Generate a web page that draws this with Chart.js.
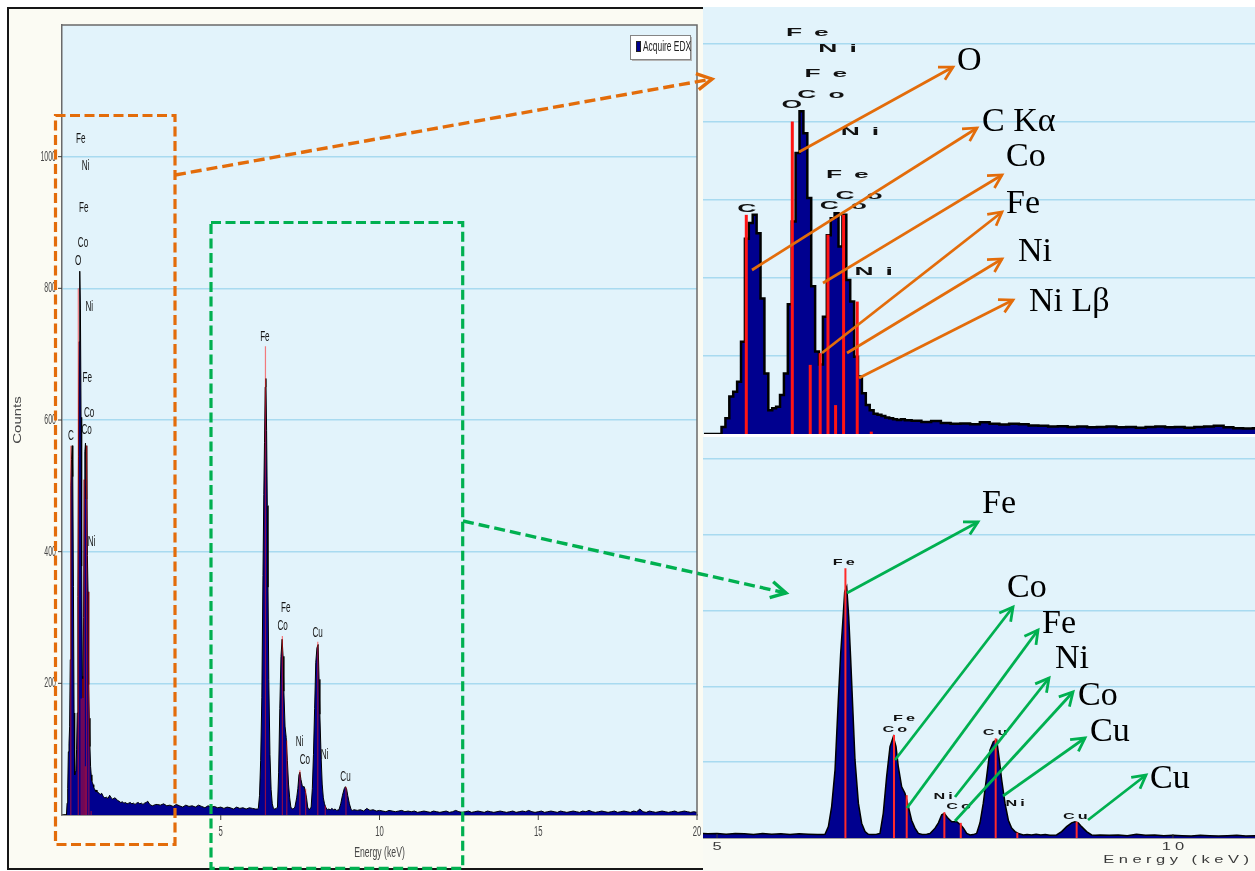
<!DOCTYPE html>
<html>
<head>
<meta charset="utf-8">
<script src="https://cdn.jsdelivr.net/npm/chart.js@4.4.1/dist/chart.umd.min.js"></script>
<style>
  body { margin: 0; background: #fff; width: 1255px; height: 871px; overflow: hidden; position: relative; }
  #panel { position: absolute; left: 7px; top: 7px; width: 697px; height: 863px; box-sizing: border-box;
           background: #fbfbf3; border: 2px solid #161616; border-right: none; }
  canvas { position: absolute; }
  #main { left: 0; top: 0; }
  #top { left: 703px; top: 7px; }
  #bottom { left: 703px; top: 437px; }
  #notes { position: absolute; left: 0; top: 0; }
</style>
</head>
<body>
<div id="panel"></div>
<canvas id="main" width="703" height="871" style="width:703px;height:871px"></canvas>
<canvas id="top" width="552" height="427" style="width:552px;height:427px"></canvas>
<canvas id="bottom" width="552" height="434" style="width:552px;height:434px"></canvas>
<svg id="notes" width="1255" height="871"></svg>
<script>
// spectrum, low energy part (C, O and the L lines)
const lowEnergy = [0.06,0.08,0.10,0.12,0.14,0.16,0.18,0.20,0.22,0.24,0.26,0.28,0.30,0.32,0.34,0.36,0.38,0.40,
  0.42,0.44,0.46,0.48,0.50,0.52,0.54,0.56,0.58,0.60,0.62,0.64,0.66,0.68,0.70,0.72,0.74,0.76,0.78,0.80,
  0.82,0.84,0.86,0.88,0.90,0.92,0.94,0.96,0.98,1.00,1.02,1.04,1.06,1.08,1.10];
const lowCounts = [0,0,0,0,0,18,40,96,108,134,236,500,540,561,514,347,155,61,
  66,70,100,155,332,544,719,826,770,604,378,211,178,300,509,552,565,480,561,394,
  339,198,147,104,74,61,52,49,46,42,40,38,36,38,35];

// background between the L lines and the K lines
const bgEnergy = [1.15,1.20,1.25,1.30,1.35,1.40,1.45,1.50,1.55,1.60,1.65,1.70,1.75,1.80,1.85,1.90,1.95,2.00,
  2.05,2.10,2.15,2.20,2.25,2.30,2.35,2.40,2.45,2.50,2.55,2.60,2.65,2.70,2.75,2.80,2.85,2.90,2.95,
  3.0,3.1,3.2,3.3,3.4,3.5,3.6,3.7,3.8,3.9,4.0,4.1,4.2,4.3,4.4,4.5,4.6,4.7,4.8,4.9,5.0,5.1,5.2,5.3,
  5.4,5.5,5.6,5.7,5.8,5.9,6.0,6.1];
const bgCounts = [34,31,33,28,26,27,25,30,26,24,26,25,22,21,19,20,18,19,
  17,18,19,17,18,16,18,19,17,18,16,18,19,21,17,15,14,15,16,
  16,15,17,14,15,13,16,14,12,15,13,14,12,15,13,11,14,12,13,11,12,10,12,11,
  9,12,10,11,9,11,10,9];

// K lines: Fe, Co/Fe, Ni/Co, Cu, Cu
const peakEnergy = [6.15,6.184,6.221,6.257,6.294,6.330,6.356,6.378,6.400,6.422,6.444,6.466,6.488,6.513,6.550,6.586,6.623,6.659,6.70,6.75,
  6.787,6.823,6.860,6.897,6.933,6.963,6.988,7.025,7.061,7.098,7.134,7.171,7.208,7.25,7.30,
  7.336,7.391,7.428,7.464,7.493,7.526,7.574,7.629,7.673,7.702,7.738,7.775,7.81,
  7.847,7.884,7.920,7.957,7.993,8.030,8.067,8.096,8.122,8.158,8.195,8.231,8.268,8.304,8.359,8.40,8.45,8.50,8.55,8.60,8.65,
  8.724,8.779,8.834,8.889,8.925,8.962,8.998,9.053,9.108,9.15,9.20];
const peakCounts = [9,10,30,83,179,364,487,566,650,663,584,470,346,206,92,39,17,10,9,10,
  12,65,162,241,267,241,188,135,118,83,47,26,12,9,10,
  12,26,40,61,65,54,43,43,34,26,12,8,9,
  12,40,92,162,232,254,259,206,153,92,47,26,17,12,8,9,8,10,8,9,7,
  8,17,30,40,43,40,30,17,8,7,8];

// high energy tail
const tailEnergy = [9.3,9.4,9.5,9.6,9.7,9.8,9.9,10.0,10.1,10.2,10.3,10.4,10.5,10.6,10.7,10.8,10.9,11.0,11.1,11.2,
  11.3,11.4,11.5,11.6,11.7,11.8,11.9,12.0,12.1,12.2,12.3,12.4,12.5,12.6,12.7,12.8,12.9,13.0,13.1,13.2,
  13.3,13.4,13.5,13.6,13.7,13.8,13.9,14.0,14.1,14.2,14.3,14.4,14.5,14.6,14.7,14.8,14.9,15.0,15.1,15.2,
  15.3,15.4,15.5,15.6,15.7,15.8,15.9,16.0,16.1,16.2,16.3,16.4,16.5,16.6,16.7,16.8,16.9,17.0,17.1,17.2,
  17.3,17.4,17.5,17.6,17.7,17.8,17.9,18.0,18.1,18.2,18.3,18.4,18.5,18.6,18.7,18.8,18.9,19.0,19.1,19.2,
  19.3,19.4,19.5,19.6,19.7,19.8,19.9,20.0];
const tailCounts = [7,8,6,10,7,8,6,7,6,5,7,6,5,6,7,5,6,5,6,4,
  5,6,5,4,6,5,4,5,6,4,5,7,5,4,5,6,4,5,6,5,
  4,6,5,4,5,6,5,4,5,6,4,5,6,5,7,5,4,5,6,4,
  5,6,5,4,6,5,4,5,6,5,4,6,5,7,5,4,5,6,5,4,
  5,6,4,5,6,5,4,6,5,9,5,4,6,5,4,5,6,5,4,5,
  6,4,5,6,5,4,5,4];

// line markers (energy keV, counts at the top of the red line)
const markerEnergy = [0.277,0.513,0.605,0.656,0.696,0.735,0.776,0.846,0.918,6.408,6.941,7.08,7.493,7.673,8.056,8.293,8.944];
const markerCounts = [561,800,177,207,510,74,561,339,6,712,272,113,68,40,263,14,43];

// element labels of the software
const labelText   = ['C','O','Co','Ni','Co','Fe','Ni','Co','Fe','Ni','Fe','Fe','Co','Fe','Cu','Ni','Co','Ni','Cu'];
const labelEnergy = [0.28,0.51,0.775,0.93,0.855,0.795,0.86,0.66,0.685,0.745,0.59,6.39,6.95,7.05,8.05,7.48,7.65,8.27,8.93];
const labelCounts = [576,842,584,414,610,664,772,868,922,985,1027,726,287,314,277,110,83,91,58];

// tick labels of the zoomed K-line view
const insetTicks = [5, 10];

const energy = [...lowEnergy, ...bgEnergy, ...peakEnergy, ...tailEnergy];
const counts = [...lowCounts, ...bgCounts, ...peakCounts, ...tailCounts];
const points = () => energy.map((e, i) => ({ x: e, y: counts[i] }));

const NAVY = '#00008f';
const PLOT_BG = '#e2f3fb';

function drawStretched(ctx, text, x, y, font, sx, gap, align) {
  ctx.font = font;
  ctx.textBaseline = 'middle';
  ctx.textAlign = 'left';
  const chars = Array.from(text);
  const w = chars.map(ch => ctx.measureText(ch).width * sx);
  const total = w.reduce((s, v) => s + v, 0) + gap * (chars.length - 1);
  let cx = align === 'right' ? x - total : align === 'left' ? x : x - total / 2;
  chars.forEach((ch, i) => {
    ctx.save();
    ctx.translate(cx, y);
    ctx.scale(sx, 1);
    ctx.fillText(ch, 0, 0);
    ctx.restore();
    cx += w[i] + gap;
  });
}

function gridColor(c) {
  const v = c.tick ? c.tick.value : -1;
  return (v > 0 && v <= 1000 && v % 200 === 0) ? '#a8daf0' : 'rgba(0,0,0,0)';
}

const plotBg = {
  id: 'plotBg',
  beforeDraw(chart, args, o) {
    const { ctx, chartArea: a } = chart;
    ctx.save();
    if (o.outer) { ctx.fillStyle = o.outer; ctx.fillRect(0, 0, chart.width, chart.height); }
    ctx.fillStyle = o.color;
    ctx.fillRect(a.left, a.top, a.right - a.left, a.bottom - a.top);
    ctx.restore();
  }
};

const peaks = {
  id: 'peaks',
  afterDatasetsDraw(chart, args, o) {
    const { ctx, chartArea: a, scales: { x, y } } = chart;
    ctx.save();
    ctx.beginPath();
    ctx.rect(a.left, a.top, a.right - a.left, a.bottom - a.top);
    ctx.clip();
    ctx.strokeStyle = o.markerColor;
    ctx.lineWidth = o.markerWidth;
    markerEnergy.forEach((e, i) => {
      const px = x.getPixelForValue(e);
      ctx.beginPath();
      ctx.moveTo(px, y.getPixelForValue(0));
      ctx.lineTo(px, y.getPixelForValue(markerCounts[i]));
      ctx.stroke();
    });
    ctx.fillStyle = o.color;
    labelText.forEach((t, i) => {
      if (labelEnergy[i] < x.min || labelEnergy[i] > x.max) return;
      drawStretched(ctx, t, x.getPixelForValue(labelEnergy[i]), y.getPixelForValue(labelCounts[i]),
        o.font, o.sx, o.gap, 'center');
    });
    ctx.restore();
  }
};

const mainAxes = {
  id: 'mainAxes',
  afterDraw(chart) {
    const { ctx, chartArea: a, scales: { x, y } } = chart;
    const f = '14px "Liberation Sans"';
    ctx.save();
    ctx.strokeStyle = '#6a6a6a';
    ctx.lineWidth = 1.5;
    ctx.beginPath();
    ctx.moveTo(a.left, a.top); ctx.lineTo(a.right, a.top); ctx.lineTo(a.right, a.bottom);
    ctx.stroke();

    ctx.fillStyle = '#474747';
    ctx.strokeStyle = '#3c3c3c';
    ctx.lineWidth = 1;
    y.ticks.forEach(t => {
      if (t.value <= 0 || t.value >= 1200) return;
      const py = y.getPixelForValue(t.value);
      ctx.beginPath(); ctx.moveTo(a.left - 4, py); ctx.lineTo(a.left, py); ctx.stroke();
      drawStretched(ctx, String(t.value), a.left - 6, py, f, 0.5, 0, 'right');
    });
    x.ticks.forEach(t => {
      if (t.value <= 0) return;
      const px = x.getPixelForValue(t.value);
      ctx.beginPath(); ctx.moveTo(px, a.bottom); ctx.lineTo(px, a.bottom + 5); ctx.stroke();
      drawStretched(ctx, String(t.value), px, a.bottom + 17, f, 0.55, 0, 'center');
    });
    drawStretched(ctx, 'Energy (keV)', x.getPixelForValue(10), a.bottom + 38, f, 0.62, 0, 'center');

    ctx.save();
    ctx.translate(18, (a.top + a.bottom) / 2);
    ctx.rotate(-Math.PI / 2);
    ctx.scale(1, 0.7);
    ctx.font = '15px "Liberation Sans"';
    ctx.textAlign = 'center';
    ctx.textBaseline = 'middle';
    ctx.fillText('Counts', 0, 0);
    ctx.restore();

    // legend box
    const bx = a.right - 67, by = a.top + 10;
    ctx.fillStyle = '#b4b4b4';
    ctx.fillRect(bx + 2, by + 2, 60, 24);
    ctx.fillStyle = '#ffffff';
    ctx.fillRect(bx, by, 60, 24);
    ctx.strokeStyle = '#858585';
    ctx.strokeRect(bx + 0.5, by + 0.5, 60, 24);
    ctx.fillStyle = NAVY;
    ctx.fillRect(bx + 6, by + 6, 5, 11);
    ctx.strokeStyle = '#222';
    ctx.strokeRect(bx + 6.5, by + 6.5, 4, 10);
    ctx.fillStyle = '#222';
    drawStretched(ctx, chart.data.datasets[0].label, bx + 13, by + 12, f, 0.6, 0, 'left');
    ctx.restore();
  }
};

const insetAxis = {
  id: 'insetAxis',
  afterDraw(chart, args, o) {
    const { ctx, chartArea: a, scales: { x } } = chart;
    const f = '11px "Liberation Sans"';
    ctx.save();
    ctx.fillStyle = '#3a3a3a';
    ctx.strokeStyle = '#3a3a3a';
    ctx.lineWidth = 1;
    insetTicks.forEach(v => {
      const px = x.getPixelForValue(v);
      ctx.beginPath(); ctx.moveTo(px, a.bottom); ctx.lineTo(px, a.bottom - 4); ctx.stroke();
      drawStretched(ctx, String(v), px, a.bottom + 9, f, 1.5, 4, 'center');
    });
    drawStretched(ctx, o.title, a.right - 6, a.bottom + 22, f, 1.5, 4.5, 'right');
    ctx.restore();
  }
};

const common = { responsive: false, animation: false, events: [], devicePixelRatio: 1 };

new Chart(document.getElementById('main'), {
  type: 'line',
  data: { datasets: [{ label: 'Acquire EDX', data: points(), fill: 'origin', backgroundColor: NAVY,
    borderColor: '#000', borderWidth: 1, pointRadius: 0, tension: 0 }] },
  options: {
    ...common,
    layout: { padding: { left: 62, top: 25, right: 6, bottom: 56 } },
    scales: {
      x: { type: 'linear', min: 0, max: 20, ticks: { display: false, stepSize: 5 },
           grid: { display: false, drawTicks: false }, border: { display: true, color: '#3a3a3a', width: 1.5 } },
      y: { min: 0, max: 1200, ticks: { display: false, stepSize: 200 },
           grid: { drawTicks: false, color: gridColor, lineWidth: 1.6 }, border: { display: true, color: '#6a6a6a', width: 1.5 } }
    },
    plugins: {
      legend: { display: false }, tooltip: { enabled: false },
      plotBg: { color: PLOT_BG },
      peaks: { font: '14px "Liberation Sans"', sx: 0.58, gap: 0, color: '#151515',
               markerColor: 'rgba(255,20,20,0.55)', markerWidth: 1.2 }
    }
  },
  plugins: [plotBg, peaks, mainAxes]
});

new Chart(document.getElementById('top'), {
  type: 'line',
  data: { datasets: [{ label: 'Acquire EDX', data: points(), fill: 'origin', backgroundColor: NAVY,
    borderColor: '#000', borderWidth: 2.5, pointRadius: 0, stepped: 'middle' }] },
  options: {
    ...common,
    layout: { padding: 0 },
    scales: {
      x: { type: 'linear', display: false, min: 0.055, max: 2.886 },
      y: { min: 0, max: 1093, ticks: { display: false, stepSize: 200 },
           grid: { drawTicks: false, color: gridColor, lineWidth: 1.6 }, border: { display: false } }
    },
    plugins: {
      legend: { display: false }, tooltip: { enabled: false },
      plotBg: { color: PLOT_BG },
      peaks: { font: 'bold 11px "Liberation Sans"', sx: 2.4, gap: 12, color: '#111',
               markerColor: '#ff1414', markerWidth: 3 }
    }
  },
  plugins: [plotBg, peaks]
});

new Chart(document.getElementById('bottom'), {
  type: 'line',
  data: { datasets: [{ label: 'Acquire EDX', data: points(), fill: 'origin', backgroundColor: NAVY,
    borderColor: '#000', borderWidth: 1.5, pointRadius: 0, tension: 0 }] },
  options: {
    ...common,
    layout: { padding: { left: 0, top: 0, right: 0, bottom: 33 } },
    scales: {
      x: { type: 'linear', min: 4.846, max: 10.9, ticks: { display: false },
           grid: { display: false, drawTicks: false }, border: { display: true, color: '#444', width: 1.5 } },
      y: { min: 0, max: 1058, ticks: { display: false, stepSize: 200 },
           grid: { drawTicks: false, color: gridColor, lineWidth: 1.6 }, border: { display: false } }
    },
    plugins: {
      legend: { display: false }, tooltip: { enabled: false },
      plotBg: { color: PLOT_BG, outer: '#f9faf4' },
      peaks: { font: 'bold 9px "Liberation Sans"', sx: 1.8, gap: 3, color: '#111',
               markerColor: '#ff2a2a', markerWidth: 2 },
      insetAxis: { title: 'Energy (keV)' }
    }
  },
  plugins: [plotBg, peaks, insetAxis]
});

// ---- annotation layer: zoom boxes, connectors and callouts ----
const ORANGE = '#e36c0a';
const GREEN = '#00b050';
const calloutTop = [[799,152,953,67],[752,270,977,128],[823,283,1002,175],[822,353,1002,212],[847,353,1002,259],[859,378,1013,300]];
const calloutTopText = [['O',957,70],['C Kα',982,131],['Co',1006,166],['Fe',1006,213],['Ni',1018,261],['Ni Lβ',1029,311]];
const calloutBottom = [[847,593,978,522],[895,760,1013,607],[907,808,1038,630],[955,797,1049,678],[955,821,1073,692],[1003,796,1085,738],[1088,820,1146,775]];
const calloutBottomText = [['Fe',982,513],['Co',1007,597],['Fe',1042,633],['Ni',1055,668],['Co',1078,705],['Cu',1090,741],['Cu',1150,788]];

const svg = document.getElementById('notes');
const NS = 'http://www.w3.org/2000/svg';
function el(tag, attrs, text) {
  const n = document.createElementNS(NS, tag);
  for (const k in attrs) n.setAttribute(k, attrs[k]);
  if (text) n.textContent = text;
  svg.appendChild(n);
  return n;
}
function arrow(x1, y1, x2, y2, color, w, dash, head) {
  el('line', { x1, y1, x2, y2, stroke: color, 'stroke-width': w, 'stroke-dasharray': dash || 'none' });
  const ang = Math.atan2(y2 - y1, x2 - x1);
  const p = s => [x2 - head * Math.cos(ang + s * 0.5), y2 - head * Math.sin(ang + s * 0.5)];
  el('polyline', { points: `${p(1)} ${x2},${y2} ${p(-1)}`, fill: 'none', stroke: color, 'stroke-width': w });
}

el('rect', { x: 55.5, y: 115.5, width: 119.5, height: 729, fill: 'none', stroke: ORANGE, 'stroke-width': 3.2, 'stroke-dasharray': '10 4.5' });
el('rect', { x: 211, y: 222.5, width: 251.7, height: 645.8, fill: 'none', stroke: GREEN, 'stroke-width': 3.2, 'stroke-dasharray': '10 4.5' });
arrow(175, 175, 712, 79, ORANGE, 3.4, '11 5', 17);
arrow(463, 521, 786, 593, GREEN, 3.4, '11 5', 17);

calloutTop.forEach(c => arrow(c[0], c[1], c[2], c[3], ORANGE, 2.7, null, 15));
calloutBottom.forEach(c => arrow(c[0], c[1], c[2], c[3], GREEN, 2.8, null, 15));
[...calloutTopText, ...calloutBottomText].forEach(t =>
  el('text', { x: t[1], y: t[2], 'font-family': '"Liberation Serif", "Times New Roman", serif', 'font-size': 34, fill: '#000' }, t[0]));
</script>
</body>
</html>
